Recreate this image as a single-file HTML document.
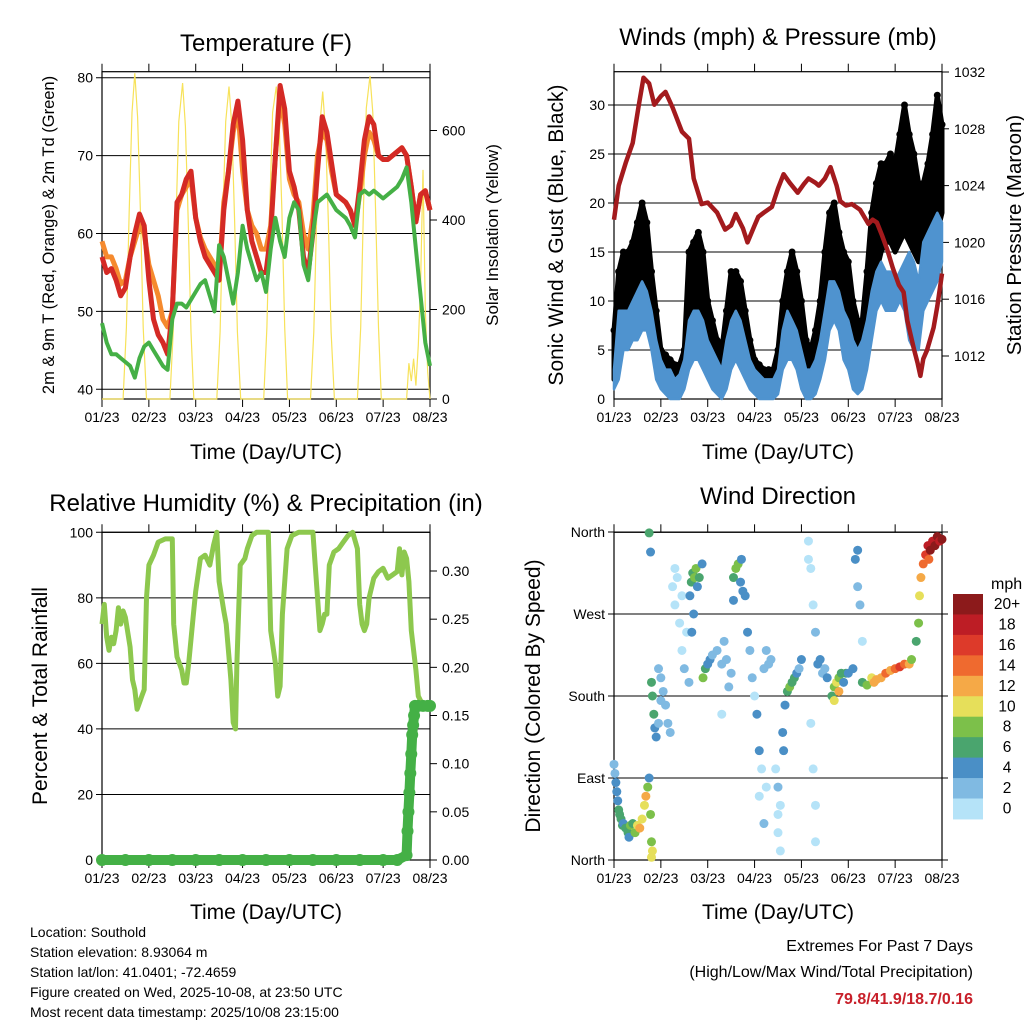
<!DOCTYPE html>
<html><head><meta charset="utf-8"><style>
body{margin:0;background:#fff}
svg text{font-family:"Liberation Sans",sans-serif;fill:#000}
</style></head><body>
<svg id="c" width="1024" height="1024" viewBox="0 0 1024 1024" xmlns="http://www.w3.org/2000/svg">
<rect width="1024" height="1024" fill="#fff"/>
<g id="p1"></g>
<g id="p2"></g>
<g id="p3"></g>
<g id="p4"></g>
<text x="266" y="51" font-size="24" text-anchor="middle">Temperature (F)</text>
<text x="778" y="45" font-size="24" text-anchor="middle">Winds (mph) &amp; Pressure (mb)</text>
<text x="266" y="511" font-size="24" text-anchor="middle">Relative Humidity (%) &amp; Precipitation (in)</text>
<text x="778" y="504" font-size="24" text-anchor="middle">Wind Direction</text>
<text x="54" y="235" font-size="16.5" text-anchor="middle" transform="rotate(-90 54 235)">2m &amp; 9m T (Red, Orange) &amp; 2m Td (Green)</text>
<text x="498" y="235" font-size="17" text-anchor="middle" transform="rotate(-90 498 235)">Solar Insolation (Yellow)</text>
<text x="563" y="235" font-size="21" text-anchor="middle" transform="rotate(-90 563 235)">Sonic Wind &amp; Gust (Blue, Black)</text>
<text x="1021" y="235" font-size="20.5" text-anchor="middle" transform="rotate(-90 1021 235)">Station Pressure (Maroon)</text>
<text x="47" y="696" font-size="21" text-anchor="middle" transform="rotate(-90 47 696)">Percent &amp; Total Rainfall</text>
<text x="540" y="696" font-size="21" text-anchor="middle" transform="rotate(-90 540 696)">Direction (Colored By Speed)</text>
<text x="266" y="459" font-size="21" text-anchor="middle">Time (Day/UTC)</text>
<text x="778" y="459" font-size="21" text-anchor="middle">Time (Day/UTC)</text>
<text x="266" y="919" font-size="21" text-anchor="middle">Time (Day/UTC)</text>
<text x="778" y="919" font-size="21" text-anchor="middle">Time (Day/UTC)</text>
<g font-size="14">
<text x="30" y="937">Location: Southold</text>
<text x="30" y="957">Station elevation: 8.93064 m</text>
<text x="30" y="977">Station lat/lon: 41.0401; -72.4659</text>
<text x="30" y="997">Figure created on Wed, 2025-10-08, at 23:50 UTC</text>
<text x="30" y="1017">Most recent data timestamp: 2025/10/08 23:15:00</text>
</g>
<text x="973" y="951" font-size="16" text-anchor="end">Extremes For Past 7 Days</text>
<text x="973" y="977" font-size="16" text-anchor="end">(High/Low/Max Wind/Total Precipitation)</text>
<text x="973" y="1004" font-size="16" font-weight="bold" text-anchor="end" style="fill:#c8202a">79.8/41.9/18.7/0.16</text>
</svg>
<script>
const dayLabels=["01/23","02/23","03/23","04/23","05/23","06/23","07/23","08/23"];
const tT=[0,0.1,0.2,0.3,0.4,0.5,0.6,0.7,0.8,0.9,1.0,1.1,1.2,1.3,1.4,1.5,1.6,1.7,1.8,1.9,2.0,2.1,2.2,2.3,2.4,2.5,2.6,2.7,2.8,2.9,3.0,3.1,3.2,3.3,3.4,3.5,3.6,3.7,3.8,3.9,4.0,4.1,4.2,4.3,4.4,4.5,4.6,4.7,4.8,4.9,5.0,5.1,5.2,5.3,5.4,5.5,5.6,5.7,5.8,5.9,6.0,6.1,6.2,6.3,6.4,6.5,6.6,6.7,6.8,6.9,7.0];
const tempRed=[57,55,55.5,54,52,53,57,60,62.5,61,54,49,47,46,44.5,50,64,65,67,68,62,59,57,56,55,54,63,68,74,77,72,63,59,57,55,55,60,70,79,76,68,66,63,57,55,60,68,75,73,69,65,64.5,64,63,61,66,72,75,74,70,69.5,69.5,70,70.5,71,70,66,61.5,65,65.5,63];
const tempOrange=[59,57,57,55.5,53.5,54,57,59,61,60,56,54,52,49,48,50,63,65,66,67,62,59.5,58,57,56,54.5,64,68,73,76,68,63,61,60,58,58,61,70,77.5,74,67,65,64,60,58,62,70,73,72,68,65,64.5,64,63,61,65,70,73,72,70,69.5,69.5,70,70.5,71,70,66,61.5,65,65.5,63];
const tempDew=[48.5,46,44.5,44.5,44,43.5,43,41.5,44,45.5,46,45,44,43,42.5,49,51,51,50.5,51.5,52.5,53.5,54,52,50,58.5,57,54,51,55,61,58,56,54,55,52.5,58,62,59,57,62,64,63,56,54,60,64,64.5,65,64,63,62.5,62,61,59.5,65,65.5,65,65.5,65,64.5,65,65.5,66,67,68.5,64,58,52,46,43];
const solarT=[0,0.45,0.52,0.58,0.64,0.7,0.76,0.82,0.88,0.95,1.45,1.52,1.58,1.64,1.72,1.78,1.84,1.9,1.96,2.45,2.52,2.58,2.64,2.71,2.77,2.83,2.89,2.96,3.45,3.52,3.58,3.64,3.72,3.78,3.84,3.9,3.96,4.45,4.52,4.58,4.64,4.71,4.77,4.83,4.89,4.96,5.45,5.52,5.58,5.64,5.72,5.78,5.84,5.9,5.96,6.5,6.55,6.6,6.65,6.7,6.75,6.8,6.85,6.9,6.95,7.0];
const solarV=[0,0,160,420,640,728,630,420,160,0,0,150,400,620,706,610,400,150,0,0,150,410,620,698,610,400,150,0,0,160,420,640,698,620,420,160,0,0,150,400,600,687,600,400,150,0,0,160,430,650,722,640,420,160,0,0,80,40,90,30,120,260,512,200,60,0];
const windT=tT;
const gustHigh=[7,13,15,15,16,18,20,18,13,9,5,4.5,4,3.5,3.5,5,15,16,17,15,10,8,6,5,9,13,13,12,9,6,4,3.5,3,3,3,5,10,13,15,13,10,6,5,7,10,15,19,20,17,15,14,10,8,8,13,19,22,24,24,25,24,27,30,27,25,22,22,24,27,31,28];
const gustLow=[2,5,7,8,9,10,11,10,7,5,3,2,1.5,1,2,3,6,7,7,6,4,3,2,2,4,7,7,6,4,3,2,1,0.5,0.5,1,2,5,7,7,6,4,2,1,2,4,7,10,11,9,7,6,4,3,3,6,10,13,15,16,16,15,16,17,16,15,14,14,15,16,17,19];
const sustHigh=[3,9,9,9,10,11,12,11,9,6,4,3,3,2,2.5,4,8,9,9,8,6,5,4,3,6,8,9,8,6,4,3,2.5,2,2,2,3,7,9,8,7,5,3,3,4,6,9,12,12,11,9,8,6,5,6,8,11,13,14,13,13,12,13,14,15,14,12,16,17,18,19,18];
const sustLow=[1,2,5,5,6,6,7,7,5,2,1,0.5,0,0,0,1,3,4,4,3,2,1,0.5,0,1,3,4,3,2,1,0.5,0,0,0,0,0.5,3,4,4,3,1,0,0,0.5,2,4,7,8,7,4,3,1,0.5,1,3,6,9,10,9,9,9,10,9,6,5,5,9,10,11,12,14];
const presT=[0,0.1,0.25,0.4,0.52,0.63,0.75,0.86,1.0,1.1,1.25,1.45,1.6,1.7,1.87,2.0,2.2,2.37,2.5,2.6,2.75,2.85,3.0,3.08,3.2,3.37,3.5,3.62,3.75,3.92,4.05,4.15,4.3,4.37,4.5,4.62,4.75,4.83,4.95,5.08,5.25,5.43,5.52,5.61,5.72,5.83,5.95,6.08,6.18,6.26,6.33,6.4,6.48,6.54,6.6,6.68,6.75,6.82,6.9,7.0];
const presV=[1021.6,1024,1025.6,1027,1029.5,1031.6,1031.2,1029.7,1030.3,1030.6,1029.5,1027.8,1027.3,1024.5,1022.7,1022.8,1022.1,1020.9,1021.2,1022,1021,1020,1021.2,1021.8,1022.1,1022.5,1023.8,1024.8,1024.2,1023.5,1024.1,1024.5,1024.2,1024,1024.5,1025.3,1024,1022.9,1022.6,1022.7,1022.3,1021.3,1021.6,1021.4,1020.5,1019.5,1018.2,1017,1016.5,1014.5,1013.5,1012.5,1011.5,1010.6,1011.8,1012.4,1013.2,1014,1015.5,1017.8];
const rhT=[0,0.05,0.1,0.15,0.2,0.25,0.3,0.35,0.4,0.45,0.5,0.6,0.65,0.7,0.75,0.8,0.85,0.9,0.95,1.0,1.1,1.2,1.35,1.5,1.53,1.6,1.7,1.75,1.8,1.85,1.95,2.0,2.1,2.2,2.3,2.38,2.45,2.5,2.6,2.65,2.75,2.8,2.85,2.88,2.95,3.05,3.1,3.2,3.3,3.55,3.6,3.7,3.75,3.8,3.85,3.95,4.05,4.2,4.5,4.55,4.65,4.7,4.75,4.8,4.85,4.95,5.05,5.15,5.25,5.35,5.45,5.5,5.55,5.6,5.65,5.7,5.8,5.9,6.0,6.1,6.2,6.3,6.35,6.4,6.45,6.5,6.55,6.6,6.7,6.75,6.82];
const rhV=[72,78,68,64,68,66,70,77,72,76,74,65,55,52,46,48,50,52,80,90,93,97,98,98,72,62,58,54,54,60,75,82,92,93,90,96,100,85,76,72,55,42,40,60,90,92,95,99,100,100,70,60,50,53,75,95,99,100,100,90,70,72,75,75,90,94,95,97,99,100,95,78,72,70,72,80,86,88,89,86,87,88,95,87,94,92,85,70,58,50,48];
const rainT=[0,0.5,1,1.5,2,2.5,3,3.5,4,4.5,5,5.5,6,6.3,6.5,6.52,6.54,6.56,6.58,6.6,6.62,6.64,6.66,6.68,6.75,6.85,6.95,7.0];
const rainV=[0,0,0,0,0,0,0,0,0,0,0,0,0,0,0.005,0.03,0.05,0.07,0.09,0.11,0.13,0.14,0.15,0.16,0.16,0.16,0.16,0.16];
const dirT=[0,0.02,0.04,0.06,0.08,0.1,0.12,0.15,0.18,0.2,0.25,0.3,0.32,0.35,0.4,0.45,0.5,0.55,0.6,0.65,0.68,0.72,0.75,0.78,0.8,0.82,0.8,0.75,0.78,
0.8,0.82,0.85,0.87,0.9,0.95,1.0,1.05,1.1,1.15,1.2,0.95,1.0,
1.25,1.3,1.35,1.4,1.45,1.5,1.55,1.6,1.3,1.45,
1.62,1.65,1.68,1.72,1.75,1.78,1.82,1.88,1.7,1.66,
1.9,1.95,2.0,2.05,2.1,2.2,2.3,2.35,2.4,2.5,2.45,2.3,
2.55,2.6,2.65,2.7,2.75,2.8,2.72,2.55,
2.85,2.9,2.95,3.0,3.05,3.1,3.15,3.2,3.25,3.3,3.35,3.1,3.2,3.25,
3.45,3.5,3.55,3.5,3.55,3.6,3.65,3.62,3.5,
3.7,3.75,3.8,3.85,3.9,3.95,4.0,
4.15,4.2,4.25,4.3,4.2,4.25,4.3,4.3,4.15,
4.35,4.4,4.45,4.5,4.55,
4.65,4.7,4.75,4.8,4.85,4.9,4.95,4.7,4.8,
5.2,5.25,5.15,5.2,5.3,5.0,5.1,
5.3,5.4,5.5,5.55,5.6,5.7,5.8,5.9,6.0,6.1,6.2,6.3,6.35,
6.45,6.5,6.52,6.55,6.6,6.65,6.7,6.75,6.8,6.85,6.9,6.95,7.0,6.72];
const dirV=[105,95,85,75,65,55,50,45,38,40,35,30,25,38,40,30,38,35,45,60,70,80,90,50,20,10,3,359,338,
195,180,160,145,135,150,175,185,170,150,140,210,200,
300,280,310,260,230,210,250,195,320,290,
290,305,315,310,320,300,310,325,270,250,
200,210,215,220,225,230,215,240,220,205,190,160,
310,320,325,305,295,290,330,285,
250,230,200,180,160,120,100,210,230,215,220,70,40,80,
100,80,60,30,10,140,170,120,50,
185,190,195,200,205,210,220,
350,320,280,250,150,100,60,20,330,
215,220,205,210,200,
180,190,195,200,205,195,205,175,185,
300,280,330,340,240,205,210,
195,192,200,195,198,200,205,208,210,212,215,215,220,
240,260,290,310,325,335,345,340,350,345,355,350,352,330];
const dirS=[2,3,4,4,5,6,7,6,6,5,6,6,5,8,7,8,10,12,10,10,12,8,4,8,9,10,10,7,4,
6,7,7,4,4,3,2,2,2,2,2,3,2,
1,1,0,1,1,2,1,2,0,0,
4,6,7,8,8,5,6,4,4,4,
8,7,4,4,3,3,2,2,2,2,2,1,
7,8,8,4,4,4,5,4,
4,2,2,1,4,4,1,2,2,2,2,1,2,1,
1,2,1,0,0,4,4,4,1,
6,8,7,6,4,3,4,
0,1,1,2,1,1,1,0,1,
4,4,3,3,4,
6,8,10,8,6,4,6,10,12,
3,2,4,4,1,4,4,
6,8,10,12,12,13,14,12,14,16,14,12,8,
6,8,10,12,14,16,18,20,18,22,20,18,20,14];
const speedLevels=["0","2","4","6","8","10","12","14","16","18","20+"];
const speedColors=["#b5e3f8","#80bae2","#4a8fc6","#4aa56e","#7cc04a","#e6df5a","#f5a947","#ef6a2f","#dd3a2a","#bd1d25","#8c1a1b"];

const NS="http://www.w3.org/2000/svg";
function mk(parent,tag,attrs){const e=document.createElementNS(NS,tag);for(const k in attrs)e.setAttribute(k,attrs[k]);parent.appendChild(e);return e;}
const X0=[102,614],X1=[430,942];
function xs(col,d){return X0[col]+(X1[col]-X0[col])*d/7;}
function yTemp(v){return 389.3-(v-40)*7.79;}
function ySolar(v){return 399-v*0.4475;}
function yWind(v){return 399-v*9.8;}
function yPres(v){return 356-(v-1012)*14.2;}
function yRH(v){return 860-v*3.277;}
function yRain(v){return 860-v*963.3;}
function yDir(v){return 860-v*0.9111;}

function frame(g,col,top,bot,leftTicks,leftFn,rightTicks,rightFn,gridVals){
  const x0=X0[col],x1=X1[col];
  gridVals.forEach(v=>{const l=mk(g,'line',{x1:x0-6,x2:x1+(rightTicks?0:6),y1:leftFn(v),y2:leftFn(v),stroke:'#000','stroke-width':1});
    });
  const r=mk(g,'rect',{x:x0,y:top,width:x1-x0,height:bot-top,fill:'none',stroke:'#000','stroke-width':1.2});
  
  leftTicks.forEach(t=>{const y=leftFn(t.v);
    const tx=mk(g,'text',{x:x0-9,y:y+5,'font-size':14,'text-anchor':'end'});tx.textContent=t.l;
    });
  if(rightTicks) rightTicks.forEach(t=>{const y=rightFn(t.v);
    mk(g,'line',{x1:x1,x2:x1+7,y1:y,y2:y,stroke:'#000'});
    const tx=mk(g,'text',{x:x1+12,y:y+5,'font-size':14});tx.textContent=t.l;
    });
  dayLabels.forEach((lab,i)=>{const x=xs(col,i);
    mk(g,'line',{x1:x,x2:x,y1:top-8,y2:top,stroke:'#000'});
    mk(g,'line',{x1:x,x2:x,y1:bot,y2:bot+8,stroke:'#000'});
    const tx=mk(g,'text',{x:x,y:bot+23,'font-size':14,'text-anchor':'middle'});tx.textContent=lab;
    });
}
function linePath(col,ts,vs,yf){return ts.map((t,i)=>(i?'L':'M')+xs(col,t).toFixed(1)+','+yf(vs[i]).toFixed(1)).join('');}
function bandPath(col,ts,hi,lo,yf){let d=ts.map((t,i)=>(i?'L':'M')+xs(col,t).toFixed(1)+','+yf(hi[i]).toFixed(1)).join('');
  for(let i=ts.length-1;i>=0;i--)d+='L'+xs(col,ts[i]).toFixed(1)+','+yf(lo[i]).toFixed(1);return d+'Z';}

const p1=document.getElementById('p1');
frame(p1,0,71.7,399,[40,50,60,70,80].map(v=>({v,l:v})),yTemp,[0,200,400,600].map(v=>({v,l:v})),ySolar,[40,50,60,70,80]);
let e;
e=mk(p1,'path',{d:linePath(0,solarT,solarV,ySolar),fill:'none',stroke:'#f7e25a','stroke-width':1.2});

e=mk(p1,'path',{d:linePath(0,tT,tempOrange,yTemp),fill:'none',stroke:'#f58a2e','stroke-width':5,'stroke-linejoin':'round'});

e=mk(p1,'path',{d:linePath(0,tT,tempRed,yTemp),fill:'none',stroke:'#d42a25','stroke-width':5,'stroke-linejoin':'round'});

e=mk(p1,'path',{d:linePath(0,tT,tempDew,yTemp),fill:'none',stroke:'#45b046','stroke-width':4,'stroke-linejoin':'round'});


const p2=document.getElementById('p2');
frame(p2,1,71.7,399,[0,5,10,15,20,25,30].map(v=>({v,l:v})),yWind,[1012,1016,1020,1024,1028,1032].map(v=>({v,l:v})),yPres,[5,10,15,20,25,30]);
e=mk(p2,'path',{d:bandPath(1,windT,gustHigh,gustLow,yWind),fill:'#000',stroke:'#000','stroke-width':5,'stroke-linejoin':'round'});

windT.forEach((t,i)=>{const c=mk(p2,'circle',{cx:xs(1,t),cy:yWind(gustHigh[i]),r:3.5,fill:'#000'});
  });
e=mk(p2,'path',{d:bandPath(1,windT,sustHigh,sustLow,yWind),fill:'#4f93cf',stroke:'#4f93cf','stroke-width':2.5,'stroke-linejoin':'round'});

e=mk(p2,'path',{d:linePath(1,presT,presV,yPres),fill:'none',stroke:'#a31a1d','stroke-width':4.5,'stroke-linejoin':'round'});


const p3=document.getElementById('p3');
frame(p3,0,532.3,860,[0,20,40,60,80,100].map(v=>({v,l:v})),yRH,[0,0.05,0.1,0.15,0.2,0.25,0.3].map(v=>({v,l:v.toFixed(2)})),yRain,[20,40,60,80,100]);
e=mk(p3,'path',{d:linePath(0,rhT,rhV,yRH),fill:'none',stroke:'#8dc84e','stroke-width':5,'stroke-linejoin':'round'});

e=mk(p3,'path',{d:linePath(0,rainT,rainV,yRain),fill:'none',stroke:'#44b046','stroke-width':10,'stroke-linecap':'round','stroke-linejoin':'round'});

rainT.forEach((t,i)=>{const c=mk(p3,'circle',{cx:xs(0,t),cy:yRain(rainV[i]),r:6,fill:'#44b046'});
  });

const p4=document.getElementById('p4');
frame(p4,1,532.3,860,[{v:0,l:'North'},{v:90,l:'East'},{v:180,l:'South'},{v:270,l:'West'},{v:360,l:'North'}],yDir,null,null,[90,180,270,360,0]);
function speedColor(s){let k=Math.floor(s/2);if(k>10)k=10;if(k<0)k=0;return speedColors[k];}
dirT.forEach((t,i)=>{const c=mk(p4,'circle',{cx:xs(1,t),cy:yDir(dirV[i]),r:4.5,fill:speedColor(dirS[i])});
  });
const lb=mk(p4,'text',{x:991,y:589,'font-size':16});lb.textContent='mph';

const cbTop=594,cbH=20.45;
speedLevels.forEach((lab,i)=>{const k=10-i;const y=cbTop+i*cbH;
  const r=mk(p4,'rect',{x:953,y:y,width:30,height:cbH+0.5,fill:speedColors[k]});
  
  const tx=mk(p4,'text',{x:1007,y:y+15,'font-size':15.5,'text-anchor':'middle'});tx.textContent=speedLevels[k];
  });
</script>
</body></html>
